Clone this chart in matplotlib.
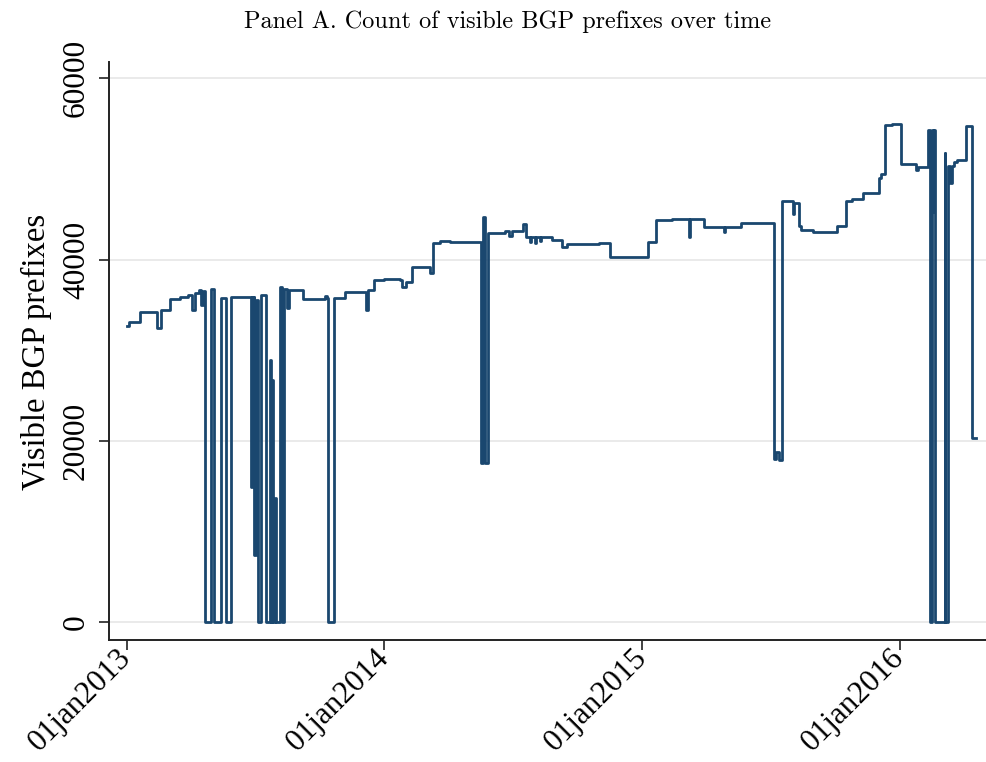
import matplotlib
matplotlib.use("Agg")
import matplotlib.pyplot as plt
import pandas as pd

# daily visible BGP prefixes (value holds until next date)
dates = [
    "2013-01-01", "2013-01-04", "2013-01-20", "2013-02-13", "2013-02-18",
    "2013-03-03", "2013-03-17", "2013-03-29", "2013-04-03", "2013-04-08",
    "2013-04-13", "2013-04-16", "2013-04-19", "2013-04-22", "2013-04-30",
    "2013-05-05", "2013-05-14", "2013-05-21", "2013-05-29", "2013-06-26",
    "2013-06-27", "2013-06-29", "2013-06-30", "2013-07-01", "2013-07-03",
    "2013-07-06", "2013-07-10", "2013-07-18", "2013-07-23", "2013-07-25",
    "2013-07-26", "2013-07-27", "2013-07-30", "2013-07-31", "2013-08-06",
    "2013-08-09", "2013-08-12", "2013-08-16", "2013-08-19", "2013-09-07",
    "2013-10-09", "2013-10-11", "2013-10-13", "2013-10-21", "2013-11-06",
    "2013-12-06", "2013-12-08", "2013-12-17", "2014-01-01", "2014-01-23",
    "2014-01-26", "2014-01-31", "2014-02-09", "2014-03-07", "2014-03-11",
    "2014-03-21", "2014-04-04", "2014-05-18", "2014-05-21", "2014-05-23",
    "2014-05-27", "2014-06-20", "2014-06-27", "2014-06-30", "2014-07-12",
    "2014-07-16", "2014-07-20", "2014-07-26", "2014-07-27", "2014-08-02",
    "2014-08-03", "2014-08-09", "2014-08-10", "2014-08-26", "2014-09-10",
    "2014-09-17", "2014-11-01", "2014-11-16", "2015-01-09", "2015-01-20",
    "2015-02-12", "2015-03-08", "2015-03-09", "2015-03-30", "2015-04-27",
    "2015-04-28", "2015-05-21", "2015-07-06", "2015-07-10", "2015-07-13",
    "2015-07-18", "2015-08-02", "2015-08-04", "2015-08-11", "2015-08-14",
    "2015-08-31", "2015-10-03", "2015-10-17", "2015-10-25", "2015-11-10",
    "2015-12-02", "2015-12-05", "2015-12-10", "2015-12-20", "2016-01-02",
    "2016-01-24", "2016-01-27", "2016-02-10", "2016-02-12", "2016-02-15",
    "2016-02-17", "2016-02-18", "2016-02-20", "2016-03-04", "2016-03-05",
    "2016-03-09", "2016-03-11", "2016-03-14", "2016-03-17", "2016-03-22",
    "2016-04-03", "2016-04-12", "2016-04-17",
]
prefixes = [
    32700, 33100, 34200, 32400, 34400,
    35600, 35900, 36100, 34400, 36300,
    36600, 35000, 36500, 0, 36700,
    0, 35700, 0, 35900, 14900,
    35900, 15500, 35900, 7400, 35500,
    0, 36100, 0, 28900, 0,
    26700, 0, 13700, 0, 37000,
    0, 36800, 34600, 36600, 35600,
    36000, 35800, 0, 35800, 36400,
    34400, 36600, 37700, 37900, 37700,
    37000, 37500, 39200, 38500, 41800,
    42000, 41900, 17500, 44700, 17500,
    42900, 43100, 42600, 43100, 43200,
    43900, 42500, 41900, 42500, 41800,
    42500, 42000, 42500, 42200, 41400,
    41700, 41800, 40300, 41900, 44400,
    44500, 42500, 44500, 43600, 43000,
    43600, 44000, 18000, 18700, 17900,
    46500, 45000, 46200, 43700, 43300,
    43000, 43700, 46500, 46700, 47300,
    49000, 49400, 54800, 55000, 50500,
    49900, 50200, 54300, 0, 54300,
    45300, 54300, 0, 51800, 0,
    50300, 48400, 50300, 50800, 51000,
    54700, 20300, 20300,
]

tick_dates = ["2013-01-01", "2014-01-01", "2015-01-01", "2016-01-01"]
tick_labels = ["01jan2013", "01jan2014", "01jan2015", "01jan2016"]
y_ticks = [0, 20000, 40000, 60000]

serif = ["Liberation Serif", "DejaVu Serif"]

fig = plt.figure(figsize=(9.87, 7.62), dpi=100)
ax = fig.add_axes([0.1104, 0.1601, 0.8896, 0.7585])

ax.plot(pd.to_datetime(dates), prefixes, drawstyle="steps-post",
        color="#1a476f", lw=2.0)

ax.set_xlim(pd.Timestamp("2012-12-07"), pd.Timestamp("2016-05-03"))
ax.set_ylim(-2000, 61800)

ax.set_yticks(y_ticks)
ax.set_yticklabels([str(v) for v in y_ticks], rotation=90, va="center",
                   family=serif, fontsize=22.5)
ax.set_xticks(pd.to_datetime(tick_dates))
ax.set_xticklabels(tick_labels, rotation=45, ha="right", va="center",
                   rotation_mode="anchor", family=serif, fontsize=22.5)

ax.yaxis.grid(True, color="#e6e6e6", lw=1.2)
ax.set_axisbelow(True)
for s in ["top", "right"]:
    ax.spines[s].set_visible(False)
for s in ["left", "bottom"]:
    ax.spines[s].set_color("#222222")
    ax.spines[s].set_linewidth(1.4)
ax.tick_params(axis="both", length=7, width=1.2, color="#222222")
ax.tick_params(axis="y", pad=6)
ax.tick_params(axis="x", pad=3)

fig.text(0.514, 0.971, "Panel A. Count of visible BGP prefixes over time",
         ha="center", va="center", family="cmr10", fontsize=17.5)
fig.text(0.037, 0.538, "Visible BGP prefixes", rotation=90,
         ha="center", va="center", family=serif, fontsize=23.5)

fig.savefig("out.png", dpi=100, facecolor="white")
